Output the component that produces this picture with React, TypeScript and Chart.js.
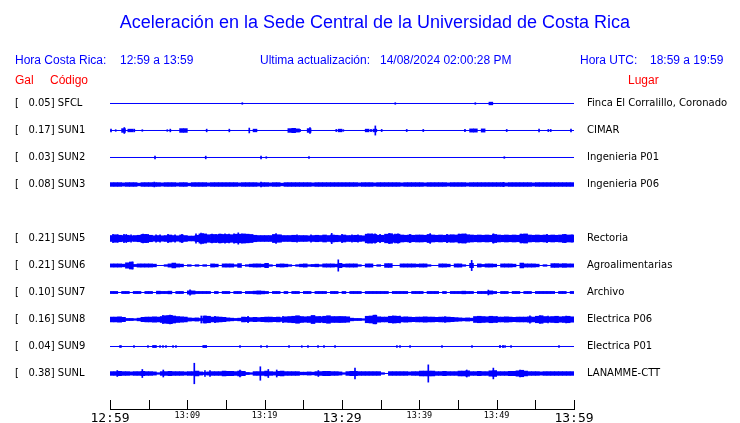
import React, { useEffect, useRef } from "react";
import { Chart, registerables } from "chart.js";

Chart.register(...registerables);

const BLUE = "#0000ff";
const RED = "#ff0000";

const TITLE = "Aceleración en la Sede Central de la Universidad de Costa Rica";
const HORA_CR_LABEL = "Hora Costa Rica:";
const HORA_CR = "12:59 a 13:59";
const ACT_LABEL = "Ultima actualización:";
const ACTUALIZACION = "14/08/2024 02:00:28 PM";
const HORA_UTC_LABEL = "Hora UTC:";
const HORA_UTC = "18:59 a 19:59";

// Row layout (one empty row where SUN4 would be)
const ROW_LAYOUT = ["SFCL", "SUN1", "SUN2", "SUN3", "", "SUN5", "SUN6", "SUN7", "SUN8", "SUN9", "SUNL"];
const CODES = ["SFCL", "SUN1", "SUN2", "SUN3", "SUN5", "SUN6", "SUN7", "SUN8", "SUN9", "SUNL"];
const PEAK_GAL = [0.05, 0.17, 0.03, 0.08, 0.21, 0.21, 0.1, 0.16, 0.04, 0.38];
const PLACES = [
  "Finca El Corralillo, Coronado",
  "CIMAR",
  "Ingenieria P01",
  "Ingenieria P06",
  "Rectoria",
  "Agroalimentarias",
  "Archivo",
  "Electrica P06",
  "Electrica P01",
  "LANAMME-CTT",
];

// time axis: minutes after 12:59, ticks every 5 minutes
const TIME_SPAN_MIN = 60;
const TICK_STEP_MIN = 5;
const TICK_LABELS = ["12:59", "", "13:09", "", "13:19", "", "13:29", "", "13:39", "", "13:49", "", "13:59"];
const MAJOR_LABELS = ["12:59", "13:29", "13:59"];

// envelope half-amplitude per 30 s bin, in centi-Gal (0.01 Gal)
const BIN_MIN = 0.5;

const ENV_SFCL = [
  0, 0, 0, 0, 0, 0, 0, 0, 0, 0,
  0, 0, 0, 0, 0, 0, 0, 0, 0, 0,
  0, 0, 0, 0, 0, 0, 0, 0, 0, 0,
  0, 0, 0, 0, 0, 0, 0, 0, 0, 0,
  0, 0, 0, 0, 0, 0, 0, 0, 0, 0,
  0, 0, 0, 0, 0, 0, 0, 0, 0, 0,
  0, 0, 0, 0, 0, 0, 0, 0, 0, 0,
  0, 0, 0, 0, 0, 0, 0, 0, 0, 0,
  0, 0, 0, 0, 0, 0, 0, 0, 0, 0,
  0, 0, 0, 0, 0, 0, 0, 0, 5, 0,
  0, 0, 0, 0, 0, 0, 0, 0, 0, 0,
  0, 0, 0, 0, 0, 0, 0, 0, 0, 0,
];
const ENV_SUN1 = [
  0, 0, 0, 7, 0, 5, 0, 0, 0, 0,
  0, 0, 0, 0, 0, 0, 0, 0, 7, 7,
  0, 0, 0, 0, 0, 0, 0, 0, 0, 0,
  0, 0, 0, 0, 0, 0, 0, 5, 0, 0,
  0, 0, 0, 0, 0, 0, 7, 8, 6, 0,
  0, 7, 0, 0, 0, 0, 0, 0, 0, 5,
  0, 0, 0, 0, 0, 0, 5, 0, 5, 0,
  0, 0, 0, 0, 0, 0, 0, 0, 0, 0,
  0, 0, 0, 0, 0, 0, 0, 0, 0, 0,
  0, 0, 0, 6, 6, 0, 6, 0, 0, 0,
  0, 0, 0, 0, 0, 0, 0, 0, 0, 0,
  0, 0, 0, 0, 0, 0, 0, 0, 0, 0,
];
const ENV_SUN2 = [
  0, 0, 0, 0, 0, 0, 0, 0, 0, 0,
  0, 0, 0, 0, 0, 0, 0, 0, 0, 0,
  0, 0, 0, 0, 0, 0, 0, 0, 0, 0,
  0, 0, 0, 0, 0, 0, 0, 0, 0, 0,
  0, 0, 0, 0, 0, 0, 0, 0, 0, 0,
  0, 0, 0, 0, 0, 0, 0, 0, 0, 0,
  0, 0, 0, 0, 0, 0, 0, 0, 0, 0,
  0, 0, 0, 0, 0, 0, 0, 0, 0, 0,
  0, 0, 0, 0, 0, 0, 0, 0, 0, 0,
  0, 0, 0, 0, 0, 0, 0, 0, 0, 0,
  0, 0, 0, 0, 0, 0, 0, 0, 0, 0,
  0, 0, 0, 0, 0, 0, 0, 0, 0, 0,
];
const ENV_SUN3 = [
  7, 7, 7, 6, 7, 7, 7, 5, 7, 7,
  7, 7, 7, 6, 7, 7, 7, 6, 7, 7,
  5, 7, 7, 7, 7, 6, 7, 7, 7, 7,
  7, 7, 7, 6, 7, 7, 7, 7, 6, 7,
  7, 6, 7, 7, 5, 7, 7, 7, 7, 7,
  7, 7, 6, 7, 7, 7, 7, 7, 7, 7,
  7, 7, 7, 7, 6, 7, 7, 7, 6, 7,
  7, 7, 7, 7, 7, 6, 7, 7, 7, 7,
  7, 6, 7, 7, 7, 7, 7, 6, 7, 7,
  7, 7, 6, 7, 7, 7, 7, 7, 7, 7,
  7, 7, 6, 7, 7, 7, 7, 7, 7, 6,
  7, 7, 7, 7, 7, 7, 7, 7, 7, 7,
];
const ENV_SUN5 = [
  11, 14, 12, 11, 12, 10, 11, 12, 15, 15,
  12, 10, 11, 10, 11, 13, 11, 10, 13, 11,
  9, 9, 12, 17, 17, 14, 15, 14, 16, 15,
  15, 14, 16, 16, 17, 16, 15, 12, 11, 11,
  11, 11, 15, 14, 11, 11, 11, 12, 11, 11,
  11, 10, 11, 12, 11, 13, 11, 13, 12, 11,
  13, 11, 11, 12, 11, 10, 16, 17, 15, 12,
  12, 16, 17, 14, 16, 13, 12, 13, 12, 13,
  13, 12, 15, 13, 12, 13, 12, 13, 14, 13,
  16, 17, 14, 13, 12, 13, 12, 13, 12, 15,
  13, 12, 13, 12, 13, 12, 16, 17, 13, 12,
  13, 12, 13, 12, 13, 12, 13, 15, 13, 13,
];
const ENV_SUN6 = [
  6, 6, 6, 5, 10, 13, 4, 6, 6, 6,
  6, 5, 0, 0, 3, 6, 9, 6, 5, 0,
  3, 0, 3, 0, 3, 0, 6, 5, 0, 6,
  6, 6, 3, 7, 0, 3, 5, 6, 6, 5,
  8, 3, 0, 5, 6, 5, 3, 0, 3, 5,
  6, 3, 4, 5, 3, 6, 6, 6, 5, 8,
  5, 6, 6, 6, 3, 0, 6, 6, 0, 3,
  0, 7, 7, 0, 0, 6, 6, 6, 6, 5,
  6, 6, 3, 0, 0, 6, 6, 5, 0, 6,
  6, 3, 0, 8, 0, 6, 4, 6, 6, 5,
  0, 6, 6, 6, 5, 0, 9, 6, 6, 6,
  5, 0, 3, 0, 7, 7, 6, 7, 6, 6,
];
const ENV_SUN7 = [
  4, 4, 0, 4, 4, 0, 4, 4, 0, 4,
  4, 0, 5, 4, 4, 5, 0, 4, 4, 0,
  6, 6, 4, 4, 4, 4, 0, 4, 0, 4,
  4, 0, 4, 4, 0, 4, 4, 5, 6, 5,
  4, 0, 4, 4, 0, 4, 0, 4, 4, 0,
  4, 4, 0, 4, 4, 4, 0, 4, 4, 0,
  4, 0, 4, 4, 4, 0, 4, 4, 4, 4,
  4, 4, 0, 4, 4, 4, 4, 0, 4, 4,
  4, 0, 4, 4, 4, 0, 4, 0, 4, 4,
  4, 5, 4, 4, 0, 4, 4, 4, 6, 4,
  0, 4, 4, 0, 4, 4, 0, 4, 4, 0,
  4, 4, 4, 4, 4, 0, 4, 4, 0, 4,
];
const ENV_SUN8 = [
  9, 9, 10, 8, 4, 4, 3, 5, 8, 9,
  9, 10, 9, 11, 14, 15, 13, 11, 10, 9,
  6, 5, 6, 4, 13, 12, 9, 10, 9, 8,
  6, 5, 4, 5, 9, 8, 7, 8, 7, 8,
  9, 9, 8, 9, 7, 10, 11, 12, 14, 11,
  10, 11, 15, 11, 10, 12, 14, 11, 11, 11,
  11, 10, 5, 4, 4, 3, 12, 13, 16, 10,
  9, 9, 12, 13, 12, 9, 10, 9, 8, 9,
  9, 10, 9, 9, 8, 9, 9, 9, 8, 7,
  6, 5, 6, 5, 11, 12, 11, 10, 12, 11,
  9, 9, 10, 9, 8, 9, 9, 9, 10, 9,
  12, 14, 11, 10, 11, 12, 10, 11, 12, 10,
];
const ENV_SUN9 = [
  0, 0, 0, 0, 0, 0, 0, 0, 0, 0,
  0, 4, 0, 0, 0, 0, 0, 0, 0, 0,
  0, 0, 0, 0, 4, 0, 0, 0, 0, 0,
  0, 0, 0, 0, 0, 0, 0, 0, 0, 0,
  0, 0, 0, 0, 0, 0, 0, 0, 0, 0,
  0, 0, 0, 0, 0, 0, 0, 0, 0, 0,
  0, 0, 0, 0, 0, 0, 0, 0, 0, 0,
  0, 0, 0, 0, 0, 0, 0, 0, 0, 0,
  0, 0, 0, 0, 0, 0, 0, 0, 0, 0,
  0, 0, 0, 0, 0, 0, 0, 0, 0, 0,
  0, 0, 0, 0, 0, 0, 0, 0, 0, 0,
  0, 0, 0, 0, 0, 0, 0, 0, 0, 0,
];
const ENV_SUNL = [
  7, 7, 8, 7, 7, 6, 7, 7, 8, 7,
  7, 6, 3, 7, 7, 8, 7, 7, 7, 6,
  7, 7, 9, 6, 4, 6, 7, 7, 7, 9,
  8, 8, 7, 9, 8, 4, 3, 7, 7, 7,
  9, 7, 6, 8, 9, 7, 7, 7, 7, 5,
  5, 6, 5, 7, 7, 8, 8, 7, 7, 6,
  3, 7, 8, 8, 7, 7, 7, 7, 7, 7,
  3, 0, 7, 7, 7, 7, 7, 6, 7, 7,
  9, 9, 9, 9, 7, 7, 8, 7, 7, 7,
  9, 9, 10, 7, 7, 8, 7, 7, 10, 11,
  7, 7, 7, 8, 8, 10, 12, 9, 7, 7,
  7, 6, 7, 7, 7, 7, 7, 7, 7, 7,
];

// isolated narrow peaks: [minute after 12:59, half-amplitude in centi-Gal]
const SPK_SFCL = [[17.11, 3], [36.89, 3], [47.24, 3]];
const SPK_SUN1 = [
  [0.13, 5], [0.74, 3], [1.85, 11], [2.37, 5], [3.14, 5], [4.18, 3], [7.41, 3], [7.8, 5],
  [12.5, 5], [15.43, 5], [18.01, 9], [24.57, 4], [25.86, 11], [29.26, 4], [30.17, 3],
  [33.75, 4], [34.31, 17], [35.13, 4], [38.37, 4], [40.51, 4], [45.9, 4], [51.3, 4],
  [55.48, 5], [56.68, 4], [56.99, 4], [59.61, 5],
];
const SPK_SUN2 = [[5.82, 5], [12.38, 5], [19.53, 5], [20.21, 3], [25.73, 3], [50.99, 3]];
const SPK_SUN3 = [[5.73, 9], [19.53, 9], [50.86, 8]];
const SPK_SUN5 = [
  [2.1, 15], [11.77, 20], [16.59, 21], [28.67, 19], [36.2, 18], [41.4, 18], [49.6, 17],
  [0.39, 15], [1.03, 14], [1.81, 15], [2.72, 14], [4.27, 16], [4.66, 15], [5.95, 14], [6.47, 14],
  [7.5, 15], [8.41, 14], [9.31, 15], [11.12, 17], [12.03, 18], [13.19, 16], [13.71, 15],
  [14.22, 16], [14.87, 17], [15.39, 16], [16.04, 17], [17.07, 16], [17.72, 15], [21.47, 18],
  [22.12, 14], [24.18, 14], [25.99, 14], [30.0, 15], [31.29, 14], [32.07, 14], [33.36, 17],
  [33.88, 16], [34.27, 17], [34.92, 15], [36.08, 18], [36.47, 17], [36.85, 16], [37.24, 17],
  [38.79, 15], [43.58, 15], [45.13, 16], [46.03, 16], [49.53, 16], [53.15, 16], [56.51, 15],
  [58.84, 15], [59.74, 14],
];
const SPK_SUN6 = [[29.52, 21], [46.77, 19], [2.9, 13]];
const SPK_SUN7 = [[10.35, 10], [48.92, 9]];
const SPK_SUN8 = [
  [34.3, 16], [8.0, 15], [54.3, 14], [11.8, 13], [6.85, 15], [7.37, 14], [7.76, 16],
  [12.28, 13], [13.58, 12], [17.85, 12], [22.37, 12], [24.57, 11], [27.16, 12], [29.74, 11],
  [36.6, 13], [37.5, 13], [43.32, 11], [47.85, 12], [50.05, 11], [55.61, 14], [56.64, 13],
  [58.97, 13],
];
const SPK_SUN9 = [
  [1.29, 3], [1.42, 3], [3.1, 3], [4.91, 3], [6.47, 3], [6.85, 3], [7.24, 3], [8.15, 3],
  [8.53, 3], [16.81, 3], [19.53, 3], [20.3, 3], [23.15, 3], [24.8, 3], [25.6, 3], [26.9, 3],
  [27.67, 3], [29.1, 3], [37.1, 3], [37.5, 3], [38.8, 3], [42.93, 3], [46.81, 3], [50.43, 4],
  [50.82, 4], [51.08, 3], [51.86, 3], [58.06, 3],
];
const SPK_SUNL = [
  [0.94, 11], [4.18, 15], [6.89, 13], [10.9, 38], [12.28, 11], [12.93, 11], [16.81, 13],
  [19.44, 25], [20.47, 15], [21.56, 13], [26.94, 11], [31.68, 20], [41.16, 32], [46.13, 13],
  [49.57, 20], [53.02, 13],
];

const ENVELOPES = [ENV_SFCL, ENV_SUN1, ENV_SUN2, ENV_SUN3, ENV_SUN5, ENV_SUN6, ENV_SUN7, ENV_SUN8, ENV_SUN9, ENV_SUNL];
const SPIKES = [SPK_SFCL, SPK_SUN1, SPK_SUN2, SPK_SUN3, SPK_SUN5, SPK_SUN6, SPK_SUN7, SPK_SUN8, SPK_SUN9, SPK_SUNL];

const W = 740;
const H = 423;

const timeAxisMarks = {
  id: "timeAxisMarks",
  afterDraw(chart: any) {
    const { ctx, chartArea } = chart;
    const x = chart.scales.x;
    const yb = Math.round(chartArea.bottom);
    const x0 = Math.round(x.getPixelForValue(0));
    const x1 = Math.round(x.getPixelForValue(TIME_SPAN_MIN));
    ctx.save();
    ctx.fillStyle = "#000";
    ctx.fillRect(x0, yb, x1 - x0 + 1, 1);
    x.ticks.forEach((t: any) => {
      const px = Math.round(x.getPixelForValue(t.value));
      ctx.fillRect(px, yb - 9, 1, 9);
    });
    ctx.restore();
  },
};

export default function App() {
  const ref = useRef<HTMLCanvasElement>(null);

  useEffect(() => {
    const rowCenter = (code: string) => -ROW_LAYOUT.indexOf(code);
    const datasets: any[] = [];
    CODES.forEach((code, i) => {
      const c = rowCenter(code);
      datasets.push({
        type: "line",
        data: [
          { x: 0, y: c },
          { x: TIME_SPAN_MIN, y: c },
        ],
        borderColor: BLUE,
        borderWidth: 1,
        pointRadius: 0,
      });
      datasets.push({
        type: "bar",
        data: ENVELOPES[i]
          .map((v, b) => (v > 0 ? { x: (b + 0.5) * BIN_MIN, y: [c - v / 100, c + v / 100] } : null))
          .filter(Boolean),
        backgroundColor: BLUE,
        borderWidth: 0,
        barThickness: 3.9,
        grouped: false,
      });
      datasets.push({
        type: "bar",
        data: SPIKES[i].map(([t, v]) => ({ x: t, y: [c - v / 100, c + v / 100] })),
        backgroundColor: BLUE,
        borderWidth: 0,
        barThickness: 1,
        grouped: false,
      });
    });

    const rowTicks = CODES.map((code) => ({ value: rowCenter(code) }));
    const yMax = 0.537;
    const yMin = yMax - 320 / 27;

    const chart = new Chart(ref.current!, {
      type: "bar",
      data: { datasets },
      plugins: [timeAxisMarks],
      options: {
        animation: false,
        responsive: false,
        events: [],
        layout: { padding: { left: 15, right: 0, top: 89, bottom: 0 } },
        plugins: { legend: { display: false }, tooltip: { enabled: false } },
        scales: {
          x: {
            type: "linear",
            min: 0,
            max: TIME_SPAN_MIN,
            offset: false,
            grid: { display: false, drawTicks: false },
            border: { display: false },
            afterFit: (s: any) => {
              s.height = 14;
              s.paddingLeft = 0;
              s.paddingRight = 0;
            },
            ticks: {
              stepSize: TICK_STEP_MIN,
              autoSkip: false,
              maxRotation: 0,
              padding: 2,
              color: "#000",
              font: (ctx: any) => {
                const lbl = TICK_LABELS[ctx.index] || "";
                return MAJOR_LABELS.includes(lbl)
                  ? { family: "DejaVu Sans Mono", size: 13 }
                  : { family: "DejaVu Sans Mono", size: 8.5 };
              },
              callback: (_v: any, i: number) => TICK_LABELS[i],
            },
          },
          y: {
            type: "linear",
            position: "left",
            min: yMin,
            max: yMax,
            grid: { display: false, drawTicks: false },
            border: { display: false },
            afterFit: (s: any) => {
              s.width = 95;
              s.paddingTop = 0;
              s.paddingBottom = 0;
            },
            afterBuildTicks: (s: any) => {
              s.ticks = rowTicks.map((t) => ({ ...t }));
            },
            ticks: {
              autoSkip: false,
              crossAlign: "far",
              padding: 0,
              color: "#000",
              font: { family: "DejaVu Sans", size: 10 },
              callback: (_v: any, i: number) => `[   ${PEAK_GAL[i].toFixed(2)}] ${CODES[i]}`,
            },
          },
          y2: {
            type: "linear",
            position: "right",
            min: yMin,
            max: yMax,
            grid: { display: false, drawTicks: false },
            border: { display: false },
            afterFit: (s: any) => {
              s.width = 166;
              s.paddingTop = 0;
              s.paddingBottom = 0;
            },
            afterBuildTicks: (s: any) => {
              s.ticks = rowTicks.map((t) => ({ ...t }));
            },
            ticks: {
              autoSkip: false,
              crossAlign: "near",
              padding: 13,
              color: "#000",
              font: { family: "DejaVu Sans", size: 10 },
              callback: (_v: any, i: number) => PLACES[i],
            },
          },
        },
      } as any,
    });
    return () => chart.destroy();
  }, []);

  const txt = (left: number, top: number, color: string, size: number, s: string) => (
    <div
      style={{
        position: "absolute",
        left,
        top,
        color,
        fontSize: size,
        lineHeight: "14px",
        fontFamily: "'Liberation Sans', Arial, sans-serif",
        whiteSpace: "pre",
      }}
    >
      {s}
    </div>
  );

  return (
    <div style={{ position: "absolute", left: 0, top: 0, width: W, height: H, background: "#fff", overflow: "hidden" }}>
      <canvas ref={ref} width={W} height={H} style={{ position: "absolute", left: 0, top: 0, width: W, height: H }} />
      <div
        style={{
          position: "absolute",
          left: 5,
          top: 12,
          width: W,
          textAlign: "center",
          color: BLUE,
          fontSize: 18,
          lineHeight: "20px",
          fontFamily: "'Liberation Sans', Arial, sans-serif",
        }}
      >
        {TITLE}
      </div>
      {txt(15, 53, BLUE, 12, HORA_CR_LABEL)}
      {txt(120, 53, BLUE, 12, HORA_CR)}
      {txt(260, 53, BLUE, 12, ACT_LABEL)}
      {txt(380, 53, BLUE, 12, ACTUALIZACION)}
      {txt(580, 53, BLUE, 12, HORA_UTC_LABEL)}
      {txt(650, 53, BLUE, 12, HORA_UTC)}
      {txt(15, 73, RED, 12, "Gal")}
      {txt(50, 73, RED, 12, "Código")}
      {txt(628, 73, RED, 12, "Lugar")}
    </div>
  );
}
